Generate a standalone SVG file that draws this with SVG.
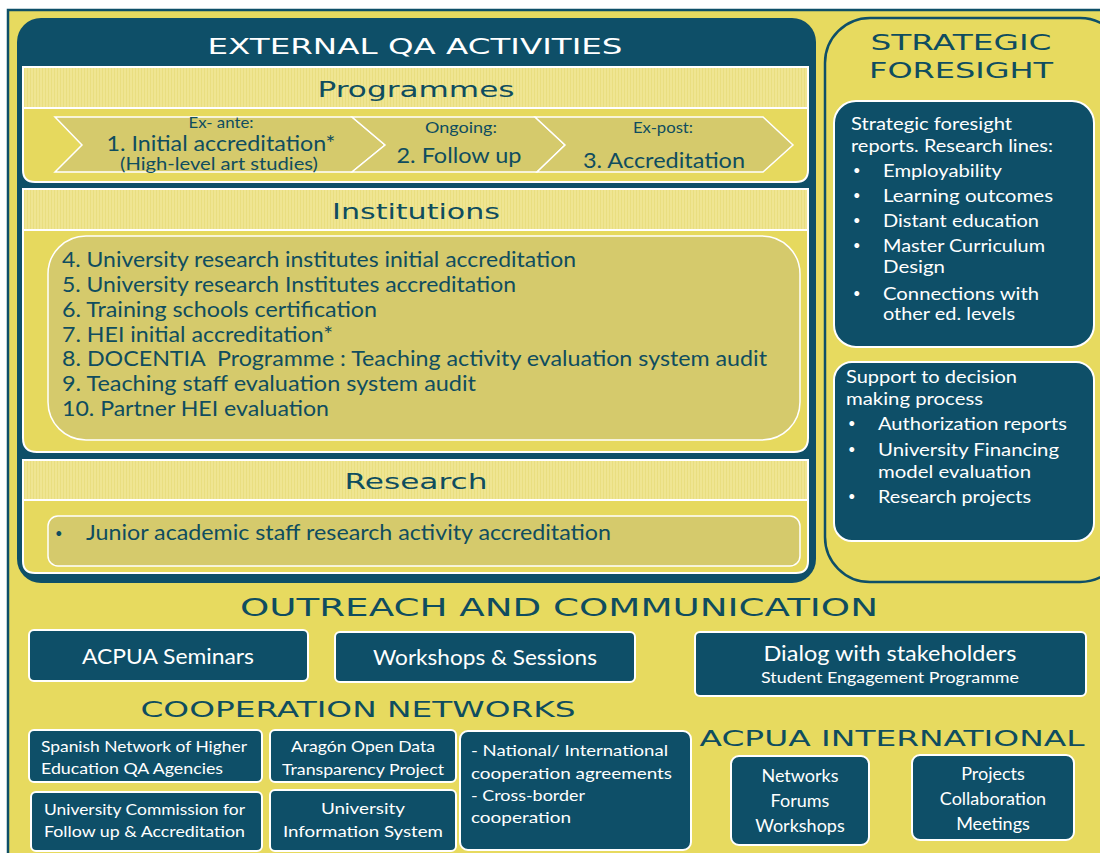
<svg xmlns="http://www.w3.org/2000/svg" width="1100" height="853" viewBox="0 0 1100 853">
<defs>
<style>
.hdr{font-family:"DejaVu Sans","Liberation Sans",sans-serif;}
.body{font-family:Lato,"Open Sans","Liberation Sans",sans-serif;}
.tw{fill:#ffffff;}
.tt{fill:#0f4d5f;}
.olive{fill:#d5ca6c;stroke:#ffffff;stroke-width:1.5;}
.sec{fill:#e6d95e;stroke:#ffffff;stroke-width:2;}
.tbox{fill:#0e4f68;stroke:#ffffff;stroke-width:2;}
.bul{font-size:13px;}
</style>
<pattern id="stripes" width="3" height="10" patternUnits="userSpaceOnUse">
<rect width="3" height="10" fill="#efe592"/>
<rect width="1" height="10" fill="#e9de80"/>
</pattern>
</defs>
<rect x="0" y="0" width="1100" height="853" fill="#ffffff"/>
<rect x="8" y="10" width="1100" height="850" fill="#e7da5f" stroke="#0e4f68" stroke-width="2.5"/>

<g id="external-qa">
<rect x="17" y="18" width="799" height="565" rx="24" fill="#0e4f68"/>
<text class="hdr tw" x="415" y="54" font-size="22" text-anchor="middle" textLength="415" lengthAdjust="spacingAndGlyphs">EXTERNAL QA ACTIVITIES</text>
</g>

<g id="programmes">
<path class="sec" d="M23,67 H808 V170 Q808,182 796,182 H35 Q23,182 23,170 Z"/>
<rect x="24" y="68" width="783" height="40" fill="url(#stripes)"/>
<line x1="23" y1="108" x2="808" y2="108" stroke="#ffffff" stroke-width="2"/>
<text class="hdr tt" x="416" y="97" font-size="21" text-anchor="middle" textLength="197" lengthAdjust="spacingAndGlyphs">Programmes</text>
<polygon class="olive" points="55,117 352,117 385,145 352,172 55,172 82,145"/>
<polygon class="olive" points="352,117 535,117 565,145 537,172 352,172 385,145"/>
<polygon class="olive" points="535,117 763,117 793,145 763,172 537,172 565,145"/>
<text class="body tt" x="221" y="128" font-size="15" text-anchor="middle" textLength="65" lengthAdjust="spacingAndGlyphs">Ex- ante:</text>
<text class="body tt" x="221" y="151" font-size="21" text-anchor="middle" textLength="229" lengthAdjust="spacingAndGlyphs">1. Initial accreditation*</text>
<text class="body tt" x="219" y="170" font-size="17" text-anchor="middle" textLength="198" lengthAdjust="spacingAndGlyphs">(High-level art studies)</text>
<text class="body tt" x="461" y="133" font-size="16" text-anchor="middle" textLength="72" lengthAdjust="spacingAndGlyphs">Ongoing:</text>
<text class="body tt" x="459" y="163" font-size="21" text-anchor="middle" textLength="125" lengthAdjust="spacingAndGlyphs">2. Follow up</text>
<text class="body tt" x="663" y="133" font-size="16" text-anchor="middle" textLength="60" lengthAdjust="spacingAndGlyphs">Ex-post:</text>
<text class="body tt" x="664" y="168" font-size="21" text-anchor="middle" textLength="162" lengthAdjust="spacingAndGlyphs">3. Accreditation</text>
</g>

<g id="institutions">
<path class="sec" d="M23,189 H808 V438 Q808,452 794,452 H37 Q23,452 23,438 Z"/>
<rect x="24" y="190" width="783" height="40" fill="url(#stripes)"/>
<line x1="23" y1="230" x2="808" y2="230" stroke="#ffffff" stroke-width="2"/>
<text class="hdr tt" x="416" y="219" font-size="21" text-anchor="middle" textLength="168" lengthAdjust="spacingAndGlyphs">Institutions</text>
<rect class="olive" x="48" y="236" width="752" height="204" rx="38"/>
<g class="body tt" font-size="21">
<text x="62" y="267" textLength="514" lengthAdjust="spacingAndGlyphs">4. University research institutes initial accreditation</text>
<text x="62" y="292" textLength="454" lengthAdjust="spacingAndGlyphs">5. University research Institutes accreditation</text>
<text x="62" y="317" textLength="315" lengthAdjust="spacingAndGlyphs">6. Training schools certification</text>
<text x="62" y="342" textLength="271" lengthAdjust="spacingAndGlyphs">7. HEI initial accreditation*</text>
<text x="62" y="366" textLength="705" lengthAdjust="spacingAndGlyphs">8. DOCENTIA&#160; Programme : Teaching activity evaluation system audit</text>
<text x="62" y="391" textLength="414" lengthAdjust="spacingAndGlyphs">9. Teaching staff evaluation system audit</text>
<text x="62" y="416" textLength="267" lengthAdjust="spacingAndGlyphs">10. Partner HEI evaluation</text>
</g>
</g>

<g id="research">
<path class="sec" d="M23,460 H808 V561 Q808,573 796,573 H35 Q23,573 23,561 Z"/>
<rect x="24" y="461" width="783" height="39" fill="url(#stripes)"/>
<line x1="23" y1="500" x2="808" y2="500" stroke="#ffffff" stroke-width="2"/>
<text class="hdr tt" x="416" y="489" font-size="21" text-anchor="middle" textLength="143" lengthAdjust="spacingAndGlyphs">Research</text>
<rect class="olive" x="48" y="516" width="752" height="50" rx="10"/>
<text class="body tt bul" x="55" y="538">•</text>
<text class="body tt" x="86" y="540" font-size="21" textLength="525" lengthAdjust="spacingAndGlyphs">Junior academic staff research activity accreditation</text>
</g>

<g id="strategic-foresight">
<rect x="825" y="18" width="300" height="564" rx="45" fill="none" stroke="#0e4f68" stroke-width="2.5"/>
<text class="hdr tt" x="961" y="50" font-size="22" text-anchor="middle" textLength="181" lengthAdjust="spacingAndGlyphs">STRATEGIC</text>
<text class="hdr tt" x="961" y="78" font-size="22" text-anchor="middle" textLength="184" lengthAdjust="spacingAndGlyphs">FORESIGHT</text>
<rect class="tbox" x="834" y="101" width="260" height="246" rx="22"/>
<g class="body tw" font-size="18">
<text x="851" y="130" textLength="161" lengthAdjust="spacingAndGlyphs">Strategic foresight</text>
<text x="851" y="152" textLength="202" lengthAdjust="spacingAndGlyphs">reports. Research lines:</text>
<text class="bul" x="853" y="175">•</text>
<text x="883" y="177" textLength="119" lengthAdjust="spacingAndGlyphs">Employability</text>
<text class="bul" x="853" y="200">•</text>
<text x="883" y="202" textLength="170" lengthAdjust="spacingAndGlyphs">Learning outcomes</text>
<text class="bul" x="853" y="225">•</text>
<text x="883" y="227" textLength="156" lengthAdjust="spacingAndGlyphs">Distant education</text>
<text class="bul" x="853" y="250">•</text>
<text x="883" y="252" textLength="162" lengthAdjust="spacingAndGlyphs">Master Curriculum</text>
<text x="883" y="273" textLength="62" lengthAdjust="spacingAndGlyphs">Design</text>
<text class="bul" x="853" y="298">•</text>
<text x="883" y="300" textLength="156" lengthAdjust="spacingAndGlyphs">Connections with</text>
<text x="883" y="320" textLength="132" lengthAdjust="spacingAndGlyphs">other ed. levels</text>
</g>
<rect class="tbox" x="834" y="362" width="260" height="179" rx="18"/>
<g class="body tw" font-size="18">
<text x="846" y="383" textLength="171" lengthAdjust="spacingAndGlyphs">Support to decision</text>
<text x="846" y="405" textLength="137" lengthAdjust="spacingAndGlyphs">making process</text>
<text class="bul" x="848" y="428">•</text>
<text x="878" y="430" textLength="189" lengthAdjust="spacingAndGlyphs">Authorization reports</text>
<text class="bul" x="848" y="454">•</text>
<text x="878" y="456" textLength="181" lengthAdjust="spacingAndGlyphs">University Financing</text>
<text x="878" y="478" textLength="153" lengthAdjust="spacingAndGlyphs">model evaluation</text>
<text class="bul" x="848" y="501">•</text>
<text x="878" y="503" textLength="153" lengthAdjust="spacingAndGlyphs">Research projects</text>
</g>
</g>

<g id="outreach">
<text class="hdr tt" x="559" y="616" font-size="25" text-anchor="middle" textLength="638" lengthAdjust="spacingAndGlyphs">OUTREACH AND COMMUNICATION</text>
</g>
<g id="acpua-seminars">
<rect class="tbox" x="29" y="630" width="279" height="51" rx="5"/>
<text class="body tw" x="168" y="664" font-size="21" text-anchor="middle" textLength="172" lengthAdjust="spacingAndGlyphs">ACPUA Seminars</text>
</g>
<g id="workshops-sessions">
<rect class="tbox" x="335" y="632" width="300" height="50" rx="5"/>
<text class="body tw" x="485" y="665" font-size="21" text-anchor="middle" textLength="224" lengthAdjust="spacingAndGlyphs">Workshops &amp; Sessions</text>
</g>
<g id="dialog-stakeholders">
<rect class="tbox" x="695" y="632" width="391" height="64" rx="5"/>
<text class="body tw" x="890" y="661" font-size="21" text-anchor="middle" textLength="253" lengthAdjust="spacingAndGlyphs">Dialog with stakeholders</text>
<text class="body tw" x="890" y="683" font-size="15" text-anchor="middle" textLength="258" lengthAdjust="spacingAndGlyphs">Student Engagement Programme</text>
</g>

<g id="cooperation">
<text class="hdr tt" x="358" y="717" font-size="22" text-anchor="middle" textLength="435" lengthAdjust="spacingAndGlyphs">COOPERATION NETWORKS</text>
</g>
<g id="spanish-network">
<rect class="tbox" x="29" y="730" width="233" height="52" rx="5"/>
<text class="body tw" x="41" y="752" font-size="15" textLength="206" lengthAdjust="spacingAndGlyphs">Spanish Network of Higher</text>
<text class="body tw" x="41" y="774" font-size="15" textLength="182" lengthAdjust="spacingAndGlyphs">Education QA Agencies</text>
</g>
<g id="aragon-open-data">
<rect class="tbox" x="270" y="730" width="186" height="52" rx="5"/>
<text class="body tw" x="363" y="752" font-size="15" text-anchor="middle" textLength="144" lengthAdjust="spacingAndGlyphs">Aragón Open Data</text>
<text class="body tw" x="363" y="775" font-size="15" text-anchor="middle" textLength="162" lengthAdjust="spacingAndGlyphs">Transparency Project</text>
</g>
<g id="university-commission">
<rect class="tbox" x="31" y="792" width="231" height="59" rx="5"/>
<text class="body tw" x="44" y="815" font-size="15" textLength="201" lengthAdjust="spacingAndGlyphs">University Commission for</text>
<text class="body tw" x="44" y="837" font-size="15" textLength="201" lengthAdjust="spacingAndGlyphs">Follow up &amp; Accreditation</text>
</g>
<g id="university-info">
<rect class="tbox" x="270" y="790" width="186" height="61" rx="5"/>
<text class="body tw" x="363" y="814" font-size="15" text-anchor="middle" textLength="84" lengthAdjust="spacingAndGlyphs">University</text>
<text class="body tw" x="363" y="837" font-size="15" text-anchor="middle" textLength="160" lengthAdjust="spacingAndGlyphs">Information System</text>
</g>
<g id="national-intl">
<rect class="tbox" x="460" y="731" width="231" height="119" rx="8"/>
<text class="body tw" x="471" y="756" font-size="15" textLength="197" lengthAdjust="spacingAndGlyphs">- National/ International</text>
<text class="body tw" x="471" y="779" font-size="15" textLength="201" lengthAdjust="spacingAndGlyphs">cooperation agreements</text>
<text class="body tw" x="471" y="801" font-size="15" textLength="114" lengthAdjust="spacingAndGlyphs">- Cross-border</text>
<text class="body tw" x="471" y="823" font-size="15" textLength="100" lengthAdjust="spacingAndGlyphs">cooperation</text>
</g>

<g id="acpua-international">
<text class="hdr tt" x="892" y="746" font-size="22" text-anchor="middle" textLength="385" lengthAdjust="spacingAndGlyphs">ACPUA INTERNATIONAL</text>
</g>
<g id="networks-forums">
<rect class="tbox" x="731" y="756" width="138" height="89" rx="8"/>
<text class="body tw" x="800" y="782" font-size="18" text-anchor="middle">Networks</text>
<text class="body tw" x="800" y="807" font-size="18" text-anchor="middle">Forums</text>
<text class="body tw" x="800" y="832" font-size="18" text-anchor="middle">Workshops</text>
</g>
<g id="projects">
<rect class="tbox" x="912" y="755" width="162" height="85" rx="8"/>
<text class="body tw" x="993" y="780" font-size="18" text-anchor="middle">Projects</text>
<text class="body tw" x="993" y="805" font-size="18" text-anchor="middle">Collaboration</text>
<text class="body tw" x="993" y="830" font-size="18" text-anchor="middle">Meetings</text>
</g>
<g id="connectors"></g>
</svg>
